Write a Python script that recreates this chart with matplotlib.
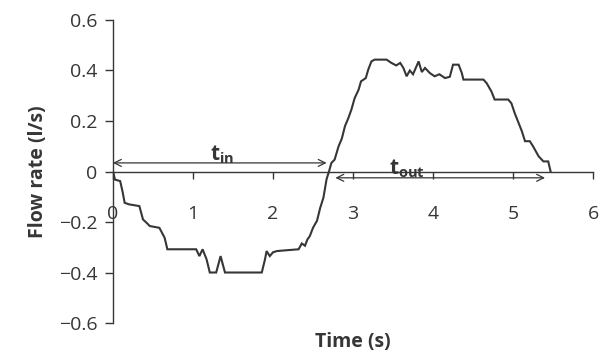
import matplotlib
matplotlib.use("Agg")
import matplotlib.pyplot as plt

plt.rcParams['font.family'] = ['Open Sans', 'DejaVu Sans']

# Flow rate trace over one breathing cycle
time_s = [0.00, 0.025, 0.09, 0.12, 0.146, 0.20, 0.33, 0.375, 0.42, 0.46, 0.58, 0.645,
          0.68, 1.04, 1.08, 1.12, 1.17, 1.21, 1.29, 1.345, 1.40, 1.86, 1.90, 1.92,
          1.96, 2.00, 2.05, 2.32, 2.36, 2.40, 2.43, 2.46, 2.50, 2.55, 2.59, 2.63,
          2.67, 2.70, 2.73, 2.77, 2.82, 2.86, 2.90, 2.94, 2.98, 3.02, 3.07, 3.10,
          3.16, 3.19, 3.23, 3.27, 3.42, 3.48, 3.54, 3.59, 3.63, 3.67, 3.71, 3.75,
          3.82, 3.86, 3.90, 3.96, 4.02, 4.08, 4.15, 4.21, 4.25, 4.32, 4.36, 4.38,
          4.63, 4.67, 4.73, 4.77, 4.94, 4.98, 5.02, 5.07, 5.11, 5.15, 5.21, 5.25,
          5.32, 5.38, 5.44, 5.47]
flow_ls = [0.000, -0.032, -0.038, -0.080, -0.124, -0.130, -0.137, -0.190, -0.203, -0.216,
           -0.223, -0.262, -0.308, -0.308, -0.335, -0.308, -0.348, -0.400, -0.400, -0.335,
           -0.400, -0.400, -0.348, -0.315, -0.335, -0.320, -0.315, -0.308, -0.285, -0.294,
           -0.269, -0.256, -0.223, -0.195, -0.144, -0.104, -0.030, 0.000, 0.034, 0.047,
           0.100, 0.130, 0.180, 0.210, 0.245, 0.290, 0.324, 0.357, 0.370, 0.403,
           0.436, 0.443, 0.443, 0.430, 0.420, 0.430, 0.410, 0.377, 0.400, 0.385,
           0.436, 0.394, 0.410, 0.390, 0.377, 0.385, 0.370, 0.375, 0.423, 0.423,
           0.390, 0.364, 0.364, 0.350, 0.317, 0.285, 0.285, 0.270, 0.232, 0.192,
           0.160, 0.120, 0.120, 0.100, 0.060, 0.040, 0.040, 0.000]

x_ticks = [0, 1, 2, 3, 4, 5, 6]
y_ticks = [-0.6, -0.4, -0.2, 0, 0.2, 0.4, 0.6]
y_tick_labels = ['\u22120.6', '\u22120.4', '\u22120.2', '0', '0.2', '0.4', '0.6']

# Inspiration / expiration spans
t_in_span = (0.0, 2.67)
t_out_span = (2.78, 5.40)

ink = '#363636'

fig = plt.figure(figsize=(6.12, 3.55), dpi=100)
ax = fig.add_axes([0.1846, 0.0901, 0.969 - 0.1846, 0.9437 - 0.0901])

ax.plot(time_s, flow_ls, color=ink, lw=1.5, solid_joinstyle='miter')

ax.set_xlim(0, 6)
ax.set_ylim(-0.6, 0.6)
ax.spines['top'].set_visible(False)
ax.spines['right'].set_visible(False)
ax.spines['bottom'].set_position(('data', 0))
for s in ('left', 'bottom'):
    ax.spines[s].set_color(ink)
    ax.spines[s].set_linewidth(1.0)

ax.set_xticks(x_ticks)
ax.set_yticks(y_ticks)
ax.set_yticklabels(y_tick_labels)
ax.tick_params(axis='x', direction='out', length=5, width=1.0, color=ink,
               labelsize=14, labelcolor=ink, pad=19)
ax.tick_params(axis='y', direction='out', length=6, width=1.0, color=ink,
               labelsize=14, labelcolor=ink, pad=5)

ax.set_ylabel('Flow rate (l/s)', fontsize=14, fontweight='bold', color=ink)
ax.yaxis.set_label_coords(-0.135, 0.5)
ax.set_xlabel('Time (s)', fontsize=14, fontweight='bold', color=ink)
ax.xaxis.set_label_coords(0.5, -0.03)

arrow_kw = dict(arrowstyle='<->, head_length=0.5, head_width=0.25', color=ink,
                lw=0.9, mutation_scale=10, shrinkA=0, shrinkB=0)
ax.annotate('', xy=(t_in_span[0], 0.034), xytext=(t_in_span[1], 0.034),
            arrowprops=arrow_kw)
ax.annotate('', xy=(t_out_span[0], -0.025), xytext=(t_out_span[1], -0.025),
            arrowprops=arrow_kw)

ax.text(1.36, 0.068, r'$\mathregular{t_{in}}$', fontsize=15, fontweight='bold',
        color=ink, ha='center', va='center')
ax.text(3.68, 0.012, r'$\mathregular{t_{out}}$', fontsize=15, fontweight='bold',
        color=ink, ha='center', va='center')

fig.savefig('out.png', dpi=100, facecolor='white')
